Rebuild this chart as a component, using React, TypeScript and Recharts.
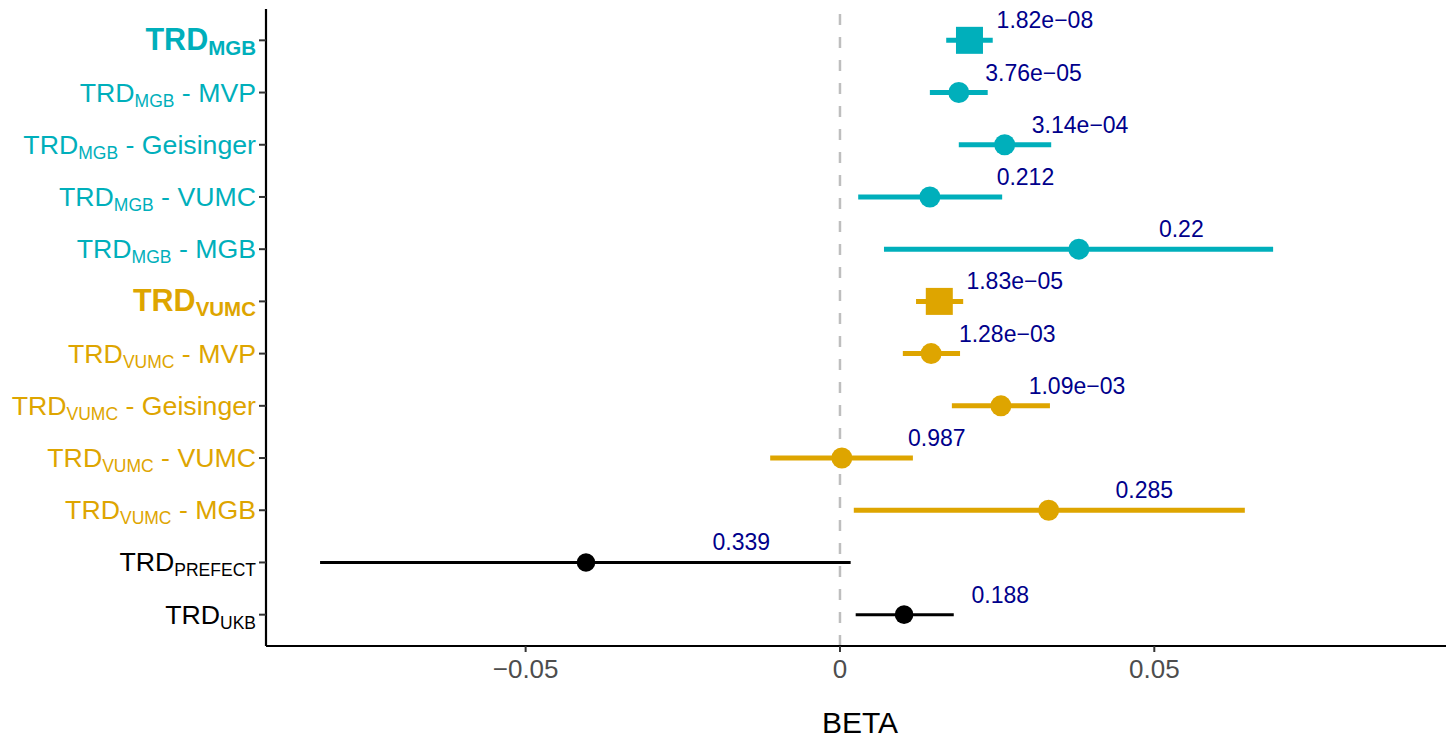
import React from 'react';
import { ScatterChart, Scatter, XAxis, YAxis, ReferenceLine, ErrorBar } from 'recharts';

// rows, top to bottom
const rowMain = ['TRD', 'TRD', 'TRD', 'TRD', 'TRD', 'TRD', 'TRD', 'TRD', 'TRD', 'TRD', 'TRD', 'TRD'];
const rowSub = ['MGB', 'MGB', 'MGB', 'MGB', 'MGB', 'VUMC', 'VUMC', 'VUMC', 'VUMC', 'VUMC', 'PREFECT', 'UKB'];
const rowSuffix = ['', ' - MVP', ' - Geisinger', ' - VUMC', ' - MGB', '', ' - MVP', ' - Geisinger', ' - VUMC', ' - MGB', '', ''];
const rowGroup = ['MGB', 'MGB', 'MGB', 'MGB', 'MGB', 'VUMC', 'VUMC', 'VUMC', 'VUMC', 'VUMC', 'other', 'other'];
const isMeta = [true, false, false, false, false, true, false, false, false, false, false, false];

const beta = [0.0206, 0.0189, 0.0262, 0.0143, 0.038, 0.0158, 0.0145, 0.0256, 0.0003, 0.0332, -0.0404, 0.0102];
const ciLow = [0.0169, 0.0143, 0.0189, 0.0029, 0.007, 0.0121, 0.01, 0.0178, -0.0111, 0.0022, -0.0827, 0.0025];
const ciHigh = [0.0243, 0.0235, 0.0336, 0.0258, 0.0689, 0.0196, 0.0191, 0.0334, 0.0116, 0.0644, 0.0017, 0.0181];

const pLabels = ['1.82e\u221208', '3.76e\u221205', '3.14e\u221204', '0.212', '0.22', '1.83e\u221205', '1.28e\u221203', '1.09e\u221203', '0.987', '0.285', '0.339', '0.188'];
const pLabelX = [0.0326, 0.0308, 0.0382, 0.0295, 0.0543, 0.0278, 0.0266, 0.0377, 0.0154, 0.0484, -0.0157, 0.0255];

const xTicks = [-0.05, 0, 0.05];

const groupColor: Record<string, string> = { MGB: '#00AFBB', VUMC: '#DEA500', other: '#000000' };
const font = '"Liberation Sans", Arial, Helvetica, sans-serif';

const rows = beta.map((b, i) => ({
  row: i + 1,
  beta: b,
  err: [b - ciLow[i], ciHigh[i] - b],
  meta: isMeta[i],
  group: rowGroup[i],
}));

const labelRows = pLabels.map((p, i) => ({ row: i + 1, beta: pLabelX[i], p }));

const Marker = (props: any) => {
  const { cx, cy, payload } = props;
  const color = groupColor[payload.group];
  if (payload.meta) {
    return <rect x={cx - 13.5} y={cy - 13.5} width={27} height={27} fill={color} />;
  }
  const r = payload.group === 'other' ? 9.3 : 10.5;
  return <circle cx={cx} cy={cy} r={r} fill={color} />;
};

const PLabel = (props: any) => (
  <text
    x={props.cx}
    y={props.cy - 12}
    textAnchor="middle"
    fontSize={23}
    fontFamily={font}
    fill="#00008B"
  >
    {props.payload.p}
  </text>
);

const RowTick = (props: any) => {
  const { x, y, payload } = props;
  const i = payload.value - 1;
  const bold = isMeta[i];
  const size = bold ? 30.5 : 26.7;
  const subSize = bold ? 20.5 : 17.5;
  return (
    <text
      x={x}
      y={y + (bold ? 9.5 : 9)}
      textAnchor="end"
      fontFamily={font}
      fontWeight={bold ? 'bold' : 'normal'}
      fill={groupColor[rowGroup[i]]}
      fontSize={size}
    >
      <tspan>{rowMain[i]}</tspan>
      <tspan fontSize={subSize} dy={5}>{rowSub[i]}</tspan>
      {rowSuffix[i] ? (
        <tspan fontSize={size} dy={-5} style={{ whiteSpace: 'pre' }}>{rowSuffix[i]}</tspan>
      ) : null}
    </text>
  );
};

const fmtX = (v: number) => (v === 0 ? '0' : `${v < 0 ? '\u2212' : ''}${Math.abs(v)}`);

export default function App() {
  const groups = ['MGB', 'VUMC', 'other'];
  return (
    <div style={{ position: 'absolute', left: 0, top: 0, background: '#fff' }}>
      <ScatterChart width={1446} height={738} margin={{ top: 9, right: 0, bottom: 0, left: 0 }}>
        <XAxis
          type="number"
          dataKey="beta"
          domain={[-0.0913, 0.0964]}
          allowDataOverflow
          ticks={xTicks}
          tickFormatter={fmtX}
          height={92}
          tickSize={6}
          tickMargin={8}
          axisLine={{ stroke: '#000', strokeWidth: 2.2 }}
          tickLine={{ stroke: '#333', strokeWidth: 2 }}
          tick={{ fill: '#4D4D4D', fontSize: 26, fontFamily: font }}
          label={{ value: 'BETA', position: 'insideBottom', offset: 5, fontSize: 30, fill: '#000', fontFamily: font, dx: 4 }}
        />
        <YAxis
          type="number"
          dataKey="row"
          domain={[0.4, 12.6]}
          reversed
          allowDataOverflow
          ticks={rows.map((r) => r.row)}
          interval={0}
          width={266}
          tickSize={7}
          tickMargin={3}
          axisLine={{ stroke: '#000', strokeWidth: 2.2 }}
          tickLine={{ stroke: '#333', strokeWidth: 2 }}
          tick={<RowTick />}
        />
        <ReferenceLine x={0} stroke="#BEBEBE" strokeWidth={2.5} strokeDasharray="11 12" />
        {groups.map((g) => (
          <Scatter
            key={g}
            data={rows.filter((r) => r.group === g)}
            shape={<Marker />}
            isAnimationActive={false}
          >
            <ErrorBar
              dataKey="err"
              direction="x"
              width={0}
              stroke={groupColor[g]}
              strokeWidth={g === 'other' ? 3 : 5}
              isAnimationActive={false}
            />
          </Scatter>
        ))}
        <Scatter data={labelRows} shape={<PLabel />} isAnimationActive={false} />
      </ScatterChart>
    </div>
  );
}
